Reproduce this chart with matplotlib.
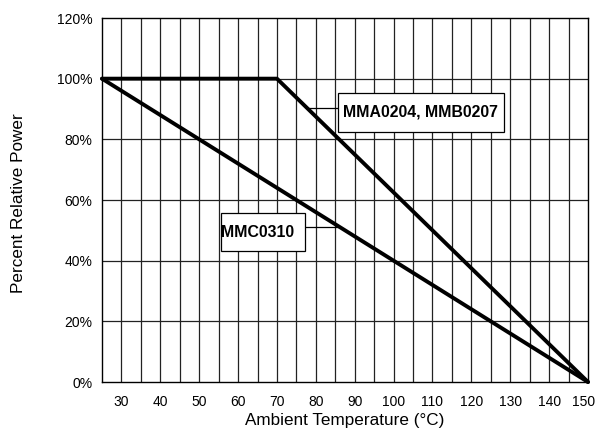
import matplotlib
matplotlib.use("Agg")
import matplotlib.pyplot as plt
from matplotlib.patches import Rectangle
import matplotlib.transforms as mtransforms
import numpy as np

plt.rcParams['font.family'] = ['Liberation Sans', 'DejaVu Sans']

# Data
mma_temp = [25, 70, 150]
mma_power = [100, 100, 0]
mmc_temp = [25, 150]
mmc_power = [100, 0]
x_ticks = [30, 40, 50, 60, 70, 80, 90, 100, 110, 120, 130, 140, 150]
y_ticks = [0, 20, 40, 60, 80, 100, 120]
y_tick_labels = ["0%", "20%", "40%", "60%", "80%", "100%", "120%"]
label_mma = "MMA0204, MMB0207"
label_mmc = "MMC0310"

fig = plt.figure(figsize=(5.98, 4.29), dpi=100)
W, H = 598, 429
ax = fig.add_axes([102 / W, 1 - 382 / H, (588 - 102) / W, (382 - 18) / H])
ax.set_xlim(25, 150)
ax.set_ylim(0, 120)

# grid
for xv in np.arange(30, 150, 5):
    ax.axvline(xv, color='#222222', lw=0.9, zorder=1)
for yv in [20, 40, 60, 80, 100]:
    ax.axhline(yv, color='#222222', lw=0.9, zorder=1)

for s in ax.spines.values():
    s.set_linewidth(1.0)
    s.set_color('black')
    s.set_zorder(3)

ax.set_xticks(x_ticks)
ax.set_xticklabels([str(v) for v in x_ticks], fontsize=10)
ax.set_yticks(y_ticks)
ax.set_yticklabels(y_tick_labels, fontsize=10)
ax.tick_params(axis='x', length=0, pad=9)
ax.tick_params(axis='y', length=0, pad=7)

# keep the last x tick label inside the figure
last = ax.get_xticklabels()[-1]
last.set_transform(last.get_transform() +
                   mtransforms.ScaledTranslation(-4 / 100, 0, fig.dpi_scale_trans))

fig.text(345 / W, 1 - 420 / H, "Ambient Temperature (°C)", fontsize=12.3,
         ha='center', va='center')
fig.text(19 / W, 1 - 203 / H, "Percent Relative Power", fontsize=12.3,
         ha='center', va='center', rotation=90)

ax.plot(mma_temp, mma_power, color='black', lw=2.8, zorder=5, solid_capstyle='round', clip_on=False)
ax.plot(mmc_temp, mmc_power, color='black', lw=2.8, zorder=5, solid_capstyle='round', clip_on=False)

# MMA annotation
y_lead = 90.3
x_on_mma = 70 + (100 - y_lead) * (150 - 70) / 100
ax.plot([x_on_mma, 85.7], [y_lead, y_lead], color='black', lw=0.9, zorder=4)
ax.add_patch(Rectangle((85.7, 82.4), 128.4 - 85.7, 95.3 - 82.4, facecolor='white',
                       edgecolor='black', lw=0.9, zorder=6))
ax.text(107.0, 88.9, label_mma, fontsize=11.4, fontweight='bold',
        ha='center', va='center', zorder=7)

# MMC annotation
y_lead2 = 51.1
x_on_mmc = 25 + (100 - y_lead2) * (150 - 25) / 100
ax.plot([77.2, x_on_mmc], [y_lead2, y_lead2], color='black', lw=0.9, zorder=4)
ax.add_patch(Rectangle((55.6, 43.2), 77.2 - 55.6, 55.7 - 43.2, facecolor='white',
                       edgecolor='black', lw=0.9, zorder=6))
ax.text(55.6, 49.4, label_mmc, fontsize=11.4, fontweight='bold',
        ha='left', va='center', zorder=7)

fig.savefig("out.png", dpi=100)
